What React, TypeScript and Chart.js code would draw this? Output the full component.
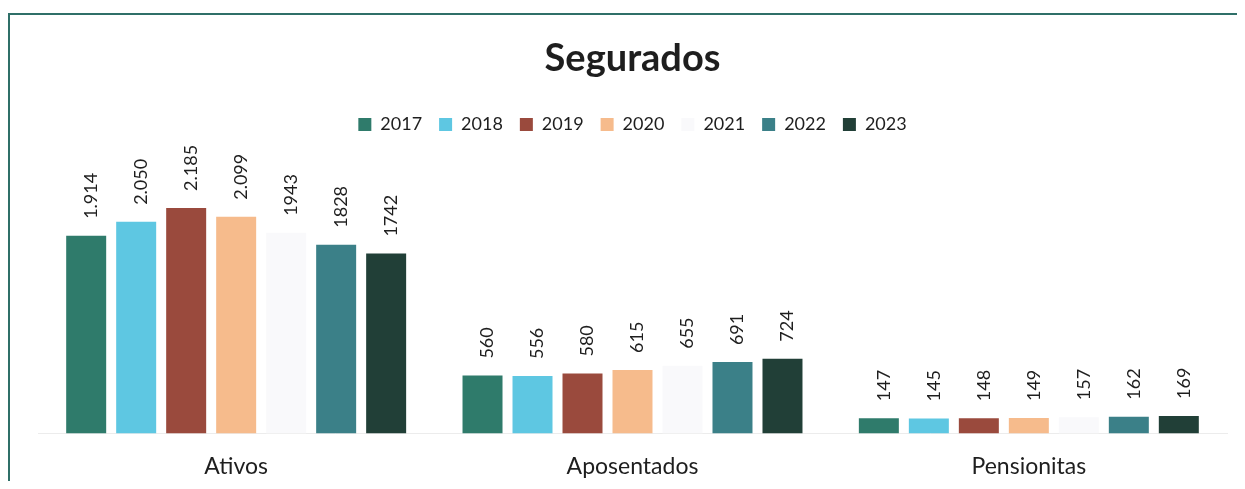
import React, { useEffect, useRef } from "react";
import { Chart, registerables } from "chart.js";

Chart.register(...registerables);

const categories = ["Ativos", "Aposentados", "Pensionitas"];
const years = ["2017", "2018", "2019", "2020", "2021", "2022", "2023"];

const values2017 = [1914, 560, 147];
const values2018 = [2050, 556, 145];
const values2019 = [2185, 580, 148];
const values2020 = [2099, 615, 149];
const values2021 = [1943, 655, 157];
const values2022 = [1828, 691, 162];
const values2023 = [1742, 724, 169];

const labels2017 = ["1.914", "560", "147"];
const labels2018 = ["2.050", "556", "145"];
const labels2019 = ["2.185", "580", "148"];
const labels2020 = ["2.099", "615", "149"];
const labels2021 = ["1943", "655", "157"];
const labels2022 = ["1828", "691", "162"];
const labels2023 = ["1742", "724", "169"];

const seriesValues = [values2017, values2018, values2019, values2020, values2021, values2022, values2023];
const seriesLabels = [labels2017, labels2018, labels2019, labels2020, labels2021, labels2022, labels2023];
const seriesColors = ["#2f7b6b", "#5ec7e2", "#9a4a3d", "#f6bb8c", "#f9f9fb", "#3b8088", "#213f37"];

const FONT = "Lato, 'Open Sans', sans-serif";

const valueLabelPlugin = {
  id: "valueLabels",
  afterDatasetsDraw(chart: any) {
    const ctx = chart.ctx;
    ctx.save();
    ctx.font = `18px ${FONT}`;
    ctx.fillStyle = "#1e1e1e";
    chart.data.datasets.forEach((_ds: any, i: number) => {
      const meta = chart.getDatasetMeta(i);
      meta.data.forEach((bar: any, j: number) => {
        const text = seriesLabels[i][j];
        ctx.save();
        ctx.translate(bar.x + 5, bar.y - 17);
        ctx.rotate(-Math.PI / 2);
        ctx.textAlign = "left";
        ctx.textBaseline = "middle";
        ctx.fillText(text, 0, 0);
        ctx.restore();
      });
    });
    ctx.restore();
  },
};

export default function App() {
  const canvasRef = useRef<HTMLCanvasElement | null>(null);

  useEffect(() => {
    if (!canvasRef.current) return;
    const chart = new Chart(canvasRef.current, {
      type: "bar",
      data: {
        labels: categories,
        datasets: years.map((y, i) => ({
          label: y,
          data: seriesValues[i],
          backgroundColor: seriesColors[i],
          borderWidth: 0,
          categoryPercentage: 0.883,
          barPercentage: 0.8,
        })),
      },
      options: {
        responsive: false,
        animation: false,
        layout: { padding: { left: 28, right: 18, top: 0, bottom: 0 } },
        plugins: {
          title: {
            display: true,
            text: "Segurados",
            color: "#1e1e1e",
            font: { family: FONT, size: 38, weight: "bold" },
            padding: { top: 21, bottom: 17 },
          },
          legend: {
            display: true,
            position: "top",
            labels: {
              color: "#1e1e1e",
              font: { family: FONT, size: 18 },
              boxWidth: 13,
              boxHeight: 13,
              padding: 17,
            },
          },
          tooltip: { enabled: false },
        },
        scales: {
          x: {
            grid: { display: false, drawTicks: false },
            border: { display: true, color: "#ececec", width: 1 },
            ticks: { color: "#1e1e1e", font: { family: FONT, size: 23 }, padding: 19 },
          },
          y: {
            display: false,
            min: 0,
            max: 2808,
          },
        },
      },
      plugins: [valueLabelPlugin],
    });
    return () => chart.destroy();
  }, []);

  return (
    <div style={{ paddingTop: 5 }}>
      <div
        style={{
          borderLeft: "2px solid #2f6f68",
          borderTop: "2px solid #2f6f68",
          marginRight: -8,
          height: 466,
          overflow: "hidden",
          background: "#ffffff",
        }}
      >
        <canvas ref={canvasRef} width={1235} height={484} style={{ display: "block" }} />
      </div>
    </div>
  );
}
